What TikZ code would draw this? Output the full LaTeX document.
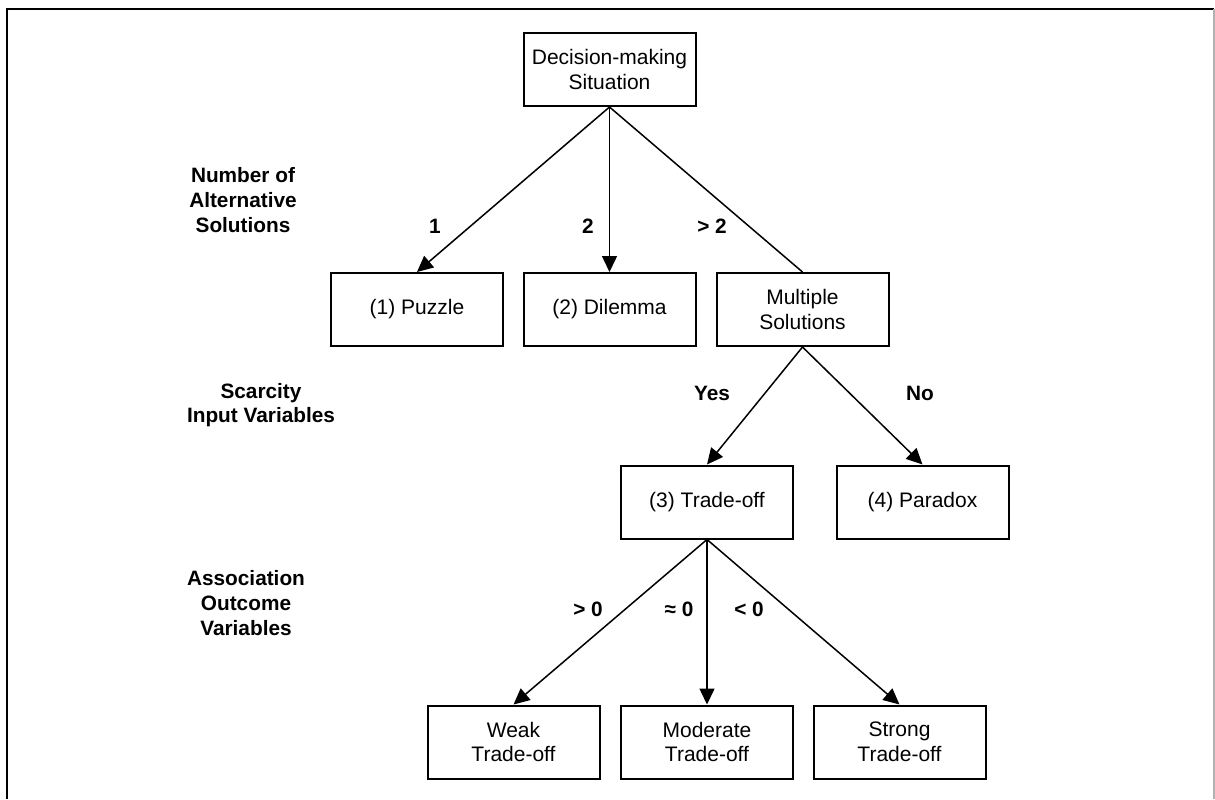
\documentclass[tikz,border=0pt]{standalone}
\usepackage{fontspec}
\setmainfont{Liberation Sans}
\usetikzlibrary{arrows.meta}
\begin{document}
\begin{tikzpicture}[x=0.5pt,y=-0.5pt,
  font=\fontsize{10.5}{12.3}\selectfont,
  box/.style={draw=black,line width=1pt,minimum width=86pt,minimum height=36.5pt,
    inner sep=0pt,align=center},
  edge/.style={line width=0.75pt},
  arr/.style={edge,-{Triangle[length=8pt,width=7.5pt]}},
  lbl/.style={font=\fontsize{10.4}{12.3}\selectfont\bfseries,align=center},
  elbl/.style={font=\fontsize{10.4}{12.3}\selectfont\bfseries}]
\useasboundingbox (0,0) rectangle (1215,799);
% outer frame
\draw[line width=1.2pt,black] (7,799) -- (7,9) -- (1214,9);
\draw[line width=0.6pt,black!30] (1214,9) -- (1214,799);

% boxes
\node[box] (top) at (609.5,69.5) {Decision-making\\Situation};
\node[box] (puz) at (417,309.5) {(1) Puzzle};
\node[box] (dil) at (609.5,309.5) {(2) Dilemma};
\node[box] (mul) at (802.5,309.5) {Multiple\\Solutions};
\node[box] (tra) at (707,502) {(3) Trade-off};
\node[box] (par) at (922.5,502) {(4) Paradox};
\node[box] (wea) at (513.5,742) {Weak\\Trade-off};
\node[box] (mod) at (707,742) {Moderate\\Trade-off};
\node[box] (str) at (899.5,742) {Strong\\Trade-off};

% level labels
\node[lbl] (l1) at (243,200) {Number of\\Alternative\\Solutions};
\node[lbl] (l2) at (261,405) {Scarcity\\Input Variables};
\node[lbl] (l3) at (246,603) {Association\\Outcome\\Variables};

% connectors
\draw[arr] (top.south) -- (puz.north);
\draw[arr] (top.south) -- (dil.north);
\draw[edge] (top.south) -- (mul.north);
\draw[arr] (mul.south) -- (tra.north);
\draw[arr] (mul.south) -- (par.north);
\draw[arr] (tra.south) -- (wea.north);
\draw[arr] (tra.south) -- (mod.north);
\draw[arr] (tra.south) -- (str.north);

% connector labels
\node[elbl] (e1) at (435,226) {1};
\node[elbl] (e2) at (588,226) {2};
\node[elbl] (e3) at (712,226) {> 2};
\node[elbl] (e4) at (712,393) {Yes};
\node[elbl] (e5) at (920,393) {No};
\node[elbl] (e6) at (588,609) {> 0};
\node[elbl] (e7) at (679,609) {≈ 0};
\node[elbl] (e8) at (749,609) {< 0};
\end{tikzpicture}
\end{document}
